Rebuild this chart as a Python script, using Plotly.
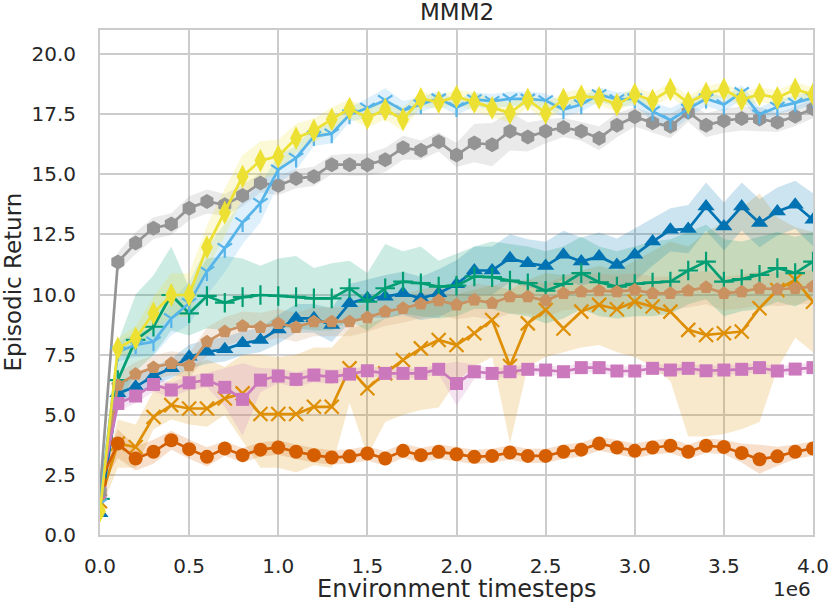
import numpy as np
import plotly.graph_objects as go

# Environment timesteps (in units of 1e6), one point every 1e5 steps
steps = np.round(np.arange(41) * 0.1, 1)

# mean episodic return per method
gray_mean = [1.8, 11.35, 12.14, 12.76, 12.93, 13.59, 13.87, 13.73, 14.12, 14.64, 14.53,
             14.82, 14.91, 15.4, 15.4, 15.4, 15.6, 16.1, 16.0, 16.35, 15.8,
             16.3, 16.23, 16.79, 16.55, 16.79, 16.95, 16.79, 16.5, 17.04, 17.39,
             17.14, 17.0, 17.58, 17.04, 17.23, 17.32, 17.3, 17.16, 17.41, 17.73]
yellow_mean = [1.0, 7.76, 8.18, 9.22, 9.98, 9.98, 11.97, 13.41, 14.91, 15.57, 15.75,
               16.5, 16.82, 17.28, 17.73, 17.34, 17.69, 17.28, 18.14, 18.0, 18.23,
               18.0, 17.76, 17.55, 18.11, 17.55, 18.11, 18.25, 18.18, 17.9, 18.32,
               18.07, 18.53, 17.97, 18.36, 18.53, 18.11, 18.32, 18.18, 18.53, 18.32]
sky_mean = [1.3, 7.62, 7.9, 8.04, 9.01, 9.64, 10.96, 11.93, 13.0, 13.8, 15.19,
            15.68, 16.58, 16.69, 17.48, 17.76, 18.08, 17.65, 17.9, 18.15, 17.78,
            18.11, 18.04, 18.14, 18.14, 18.07, 17.69, 17.9, 18.32, 18.11, 18.15,
            17.62, 17.25, 17.72, 18.14, 17.9, 18.41, 17.48, 17.8, 17.97, 18.18]
blue_mean = [0.9, 5.89, 6.16, 6.61, 6.93, 7.41, 7.62, 7.72, 7.97, 8.11, 8.55,
             9.01, 9.01, 8.73, 9.64, 9.84, 9.91, 10.05, 9.84, 10.05, 10.43,
             11.0, 11.0, 11.51, 11.3, 11.19, 11.65, 11.37, 11.58, 11.23, 11.65,
             12.2, 12.69, 12.72, 13.66, 12.83, 13.66, 12.97, 13.45, 13.73, 13.11]
green_mean = [1.5, 6.44, 8.11, 8.66, 9.98, 9.22, 9.94, 9.66, 9.89, 9.98, 9.94,
              9.9, 9.84, 9.84, 10.26, 9.7, 10.26, 10.54, 10.47, 10.33, 10.37,
              10.75, 10.72, 10.58, 10.47, 10.16, 10.44, 10.89, 10.51, 10.33, 10.44,
              10.5, 10.54, 11.0, 11.37, 10.54, 10.64, 10.82, 11.1, 10.89, 11.37]
tan_mean = [1.6, 6.23, 6.69, 6.97, 7.14, 7.04, 8.04, 8.46, 8.69, 8.64, 8.8,
            8.64, 8.87, 8.87, 8.87, 9.04, 9.29, 9.43, 9.61, 9.75, 9.57,
            9.78, 9.64, 9.91, 9.91, 9.75, 10.05, 10.12, 10.16, 10.12, 10.19,
            10.05, 10.05, 10.16, 10.3, 10.05, 10.12, 10.26, 10.22, 10.26, 10.33]
orange_mean = [1.4, 3.8, 3.66, 4.91, 5.4, 5.26, 5.26, 5.68, 5.89, 5.03, 5.03,
               5.03, 5.33, 5.33, 6.93, 6.1, 6.72, 7.28, 7.76, 8.11, 7.9,
               8.39, 8.94, 7.03, 8.8, 9.36, 8.59, 9.29, 9.57, 9.39, 9.7,
               9.5, 9.29, 8.53, 8.32, 8.39, 8.46, 9.43, 10.19, 10.61, 9.7]
pink_mean = [1.8, 5.47, 5.78, 6.26, 6.03, 6.33, 6.44, 6.14, 5.64, 6.44, 6.61,
             6.47, 6.65, 6.58, 6.69, 6.83, 6.72, 6.72, 6.72, 6.89, 6.3,
             6.79, 6.72, 6.79, 6.89, 6.86, 6.79, 6.96, 6.96, 6.82, 6.82,
             6.93, 6.86, 6.93, 6.83, 6.86, 6.89, 6.96, 6.82, 6.9, 6.96]
red_mean = [2.2, 3.8, 3.18, 3.46, 3.94, 3.57, 3.25, 3.6, 3.32, 3.55, 3.64,
            3.46, 3.32, 3.22, 3.27, 3.39, 3.18, 3.5, 3.32, 3.46, 3.36,
            3.25, 3.29, 3.43, 3.29, 3.29, 3.46, 3.55, 3.8, 3.64, 3.5,
            3.64, 3.71, 3.46, 3.71, 3.66, 3.41, 3.15, 3.27, 3.46, 3.6]

# half-width of the shaded band
gray_spread = [0.3, 0.4, 0.45, 0.45, 0.45, 0.5, 0.5, 0.45, 0.45, 0.4, 0.4,
               0.4, 0.4, 0.4, 0.45, 0.45, 0.5, 0.5, 0.4, 0.4, 0.5,
               0.8, 0.9, 0.8, 0.6, 0.5, 0.4, 0.4, 0.5, 0.5, 0.4,
               0.4, 0.5, 0.4, 0.5, 0.5, 0.5, 0.5, 0.4, 0.4, 0.4]
yellow_spread = [0.2, 0.4, 0.5, 0.7, 0.9, 0.9, 0.9, 1.0, 0.9, 0.8, 0.7,
                 0.6, 0.5, 0.5, 0.4, 0.4, 0.4, 0.5, 0.3, 0.3, 0.3,
                 0.4, 0.4, 0.4, 0.3, 0.4, 0.3, 0.3, 0.3, 0.3, 0.3,
                 0.3, 0.3, 0.3, 0.3, 0.3, 0.3, 0.3, 0.3, 0.3, 0.3]
sky_spread = [0.3, 0.4, 0.5, 0.6, 0.7, 0.9, 1.0, 1.0, 0.9, 0.8, 0.6,
              0.5, 0.4, 0.4, 0.3, 0.4, 0.5, 0.4, 0.3, 0.3, 0.3,
              0.3, 0.3, 0.3, 0.3, 0.3, 0.3, 0.3, 0.3, 0.3, 0.3,
              0.4, 0.5, 0.4, 0.3, 0.3, 0.3, 0.3, 0.3, 0.3, 0.3]
blue_spread = [0.2, 0.4, 0.4, 0.4, 0.4, 0.5, 0.5, 0.5, 0.5, 0.5, 0.6,
               0.6, 0.6, 0.7, 0.8, 0.8, 0.9, 0.9, 0.9, 1.0, 1.0,
               1.0, 1.0, 1.0, 1.0, 1.0, 1.0, 1.0, 1.0, 1.1, 1.1,
               1.0, 0.9, 1.0, 1.0, 1.0, 1.0, 1.0, 1.0, 1.0, 1.1]
tan_spread = [0.2, 0.5, 0.5, 0.5, 0.5, 0.5, 0.6, 0.6, 0.6, 0.6, 0.6,
              0.6, 0.6, 0.6, 0.6, 0.6, 0.6, 0.6, 0.6, 0.6, 0.6,
              0.7, 0.7, 0.7, 0.7, 0.7, 0.7, 0.7, 0.7, 0.7, 0.7,
              0.7, 0.7, 0.7, 0.7, 0.7, 0.7, 0.7, 0.7, 0.7, 0.7]
pink_spread = [0.2, 0.3, 0.3, 0.3, 0.3, 0.3, 0.3, 0.8, 1.5, 0.5, 0.3,
               0.3, 0.3, 0.3, 0.2, 0.2, 0.2, 0.2, 0.2, 0.2, 0.9,
               0.3, 0.2, 0.2, 0.2, 0.2, 0.2, 0.2, 0.2, 0.2, 0.2,
               0.2, 0.2, 0.2, 0.2, 0.2, 0.2, 0.2, 0.2, 0.2, 0.2]
red_spread = [0.3, 0.6, 0.5, 0.5, 0.4, 0.4, 0.4, 0.3, 0.3, 0.3, 0.3,
              0.3, 0.3, 0.3, 0.3, 0.3, 0.3, 0.3, 0.3, 0.3, 0.3,
              0.3, 0.3, 0.3, 0.3, 0.3, 0.3, 0.3, 0.3, 0.3, 0.3,
              0.3, 0.3, 0.3, 0.3, 0.3, 0.4, 0.6, 0.4, 0.3, 0.3]

# asymmetric bands
green_lo = [1.2, 5.2, 6.8, 7.5, 8.5, 8.3, 8.6, 8.5, 8.6, 8.7, 8.6,
            8.6, 8.5, 8.5, 8.9, 8.5, 9.0, 9.2, 9.1, 9.0, 9.1,
            9.4, 9.4, 9.2, 9.1, 8.8, 9.0, 9.4, 9.1, 9.0, 9.1,
            9.1, 9.2, 9.6, 9.8, 9.1, 9.3, 9.4, 9.7, 9.5, 9.9]
green_hi = [1.8, 8.0, 10.0, 10.8, 12.0, 10.3, 11.5, 11.6, 11.5, 11.2, 11.5,
            11.6, 11.1, 11.3, 11.4, 10.9, 12.1, 11.8, 12.0, 11.4, 11.7,
            12.0, 12.2, 12.1, 12.0, 11.8, 12.0, 12.4, 12.0, 11.8, 12.0,
            12.2, 12.3, 12.6, 12.9, 12.3, 12.2, 12.4, 12.6, 12.4, 12.6]
orange_lo = [1.0, 2.8, 2.8, 4.4, 4.8, 4.6, 4.5, 5.0, 3.9, 2.8, 2.8,
             2.6, 2.9, 2.8, 5.5, 3.3, 4.7, 5.0, 5.2, 5.3, 6.4,
             7.0, 7.4, 3.8, 7.0, 7.4, 7.6, 7.8, 7.9, 7.6, 7.4,
             7.0, 6.4, 4.1, 4.1, 4.2, 4.4, 4.7, 6.9, 8.2, 7.6]
orange_hi = [1.8, 4.8, 4.6, 6.0, 6.5, 7.0, 7.3, 7.0, 7.5, 7.5, 7.4,
             7.5, 7.8, 7.8, 8.6, 8.8, 9.0, 9.3, 9.6, 9.9, 10.0,
             10.2, 10.4, 10.2, 10.6, 10.9, 10.8, 11.0, 11.2, 11.0, 11.4,
             11.8, 12.2, 12.0, 12.6, 13.0, 13.6, 14.2, 13.2, 12.8, 12.6]


def band(mean, spread):
    lo = [m - s for m, s in zip(mean, spread)]
    hi = [m + s for m, s in zip(mean, spread)]
    return lo, hi


def rgba(hexcol, a):
    h = hexcol.lstrip("#")
    return "rgba(%d,%d,%d,%s)" % (int(h[0:2], 16), int(h[2:4], 16), int(h[4:6], 16), a)


series = [
    # (mean, lo, hi, colour, symbol, size, open marker)
    (orange_mean, orange_lo, orange_hi, "#de8f05", "x-thin", 14, True),
    (blue_mean, *band(blue_mean, blue_spread), "#0173b2", "triangle-up", 15, False),
    (green_mean, green_lo, green_hi, "#029e73", "cross-thin", 14, True),
    (tan_mean, *band(tan_mean, tan_spread), "#ca9161", "pentagon", 14, False),
    (pink_mean, *band(pink_mean, pink_spread), "#cc78bc", "square", 13, False),
    (red_mean, *band(red_mean, red_spread), "#d55e00", "circle", 14, False),
    (gray_mean, *band(gray_mean, gray_spread), "#949494", "hexagon", 15, False),
    (sky_mean, *band(sky_mean, sky_spread), "#56b4e9", "y-down", 12, True),
    (yellow_mean, *band(yellow_mean, yellow_spread), "#ece133", "diamond-tall", 17, False),
]

fig = go.Figure()
xs = list(steps)

# shaded bands first
for mean, lo, hi, col, sym, size, is_open in series:
    fig.add_trace(go.Scatter(x=xs + xs[::-1], y=list(hi) + list(lo)[::-1],
                             fill="toself", fillcolor=rgba(col, 0.2),
                             line=dict(width=0), mode="lines",
                             hoverinfo="skip", showlegend=False))

for mean, lo, hi, col, sym, size, is_open in series:
    marker = dict(symbol=sym, size=size, color=col)
    if is_open:
        marker["line"] = dict(color=col, width=2.2)
    fig.add_trace(go.Scatter(x=xs, y=mean, mode="lines+markers",
                             line=dict(color=col, width=2.7),
                             marker=marker, showlegend=False))

font_fam = "DejaVu Sans"
txt_col = "#262626"
axis_style = dict(showline=True, linecolor="#cccccc", linewidth=2, mirror=True,
                  showgrid=True, gridcolor="#cccccc", gridwidth=2,
                  zeroline=False, ticks="outside", tickcolor="rgba(0,0,0,0)",
                  automargin=False,
                  tickfont=dict(family=font_fam, size=20, color=txt_col))

fig.update_xaxes(range=[0, 4.0], tickvals=[0, 0.5, 1, 1.5, 2, 2.5, 3, 3.5, 4],
                 tickformat=".1f", ticklen=12, **axis_style)
fig.update_yaxes(range=[0, 21], tickvals=[0, 2.5, 5, 7.5, 10, 12.5, 15, 17.5, 20],
                 tickformat=".1f", ticklen=18, **axis_style)

fig.update_layout(
    width=831, height=607,
    margin=dict(l=100, r=18, t=30, b=72, autoexpand=False),
    plot_bgcolor="white", paper_bgcolor="white",
    font=dict(family=font_fam, color=txt_col),
    annotations=[
        dict(text="MMM2", x=0.5, y=1.0366, xref="paper", yref="paper",
             xanchor="center", yanchor="middle", showarrow=False,
             font=dict(size=23, family=font_fam, color=txt_col)),
        dict(text="Environment timesteps", x=0.5, y=-0.106, xref="paper", yref="paper",
             xanchor="center", yanchor="middle", showarrow=False,
             font=dict(size=24, family=font_fam, color=txt_col)),
        dict(text="1e6", x=1.0, y=-0.106, xref="paper", yref="paper",
             xanchor="right", yanchor="middle", showarrow=False,
             font=dict(size=20, family=font_fam, color=txt_col)),
        dict(text="Episodic Return", x=-0.1234, y=0.5, xref="paper", yref="paper",
             xanchor="center", yanchor="middle", textangle=-90, showarrow=False,
             font=dict(size=23, family=font_fam, color=txt_col)),
    ],
)

# drop the browser's default 8px page margin so the figure sits at the window origin
fig.write_html("out.html", config={"displayModeBar": False},
               post_script="document.body.style.margin = '0px';")
